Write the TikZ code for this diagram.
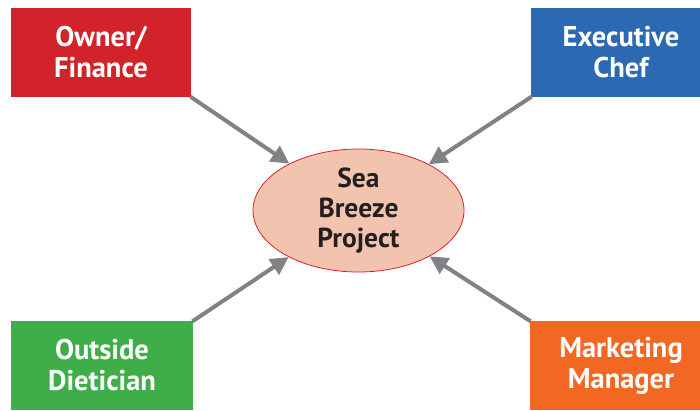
\documentclass[tikz,border=0pt]{standalone}
\usepackage{fontspec}
\setmainfont{PT Sans}
\usetikzlibrary{arrows.meta,shapes.geometric}
\definecolor{cred}{HTML}{D2232A}
\definecolor{cblue}{HTML}{2B6AB3}
\definecolor{cgreen}{HTML}{3FAE49}
\definecolor{corange}{HTML}{F26722}
\definecolor{cpink}{HTML}{F2C4B0}
\definecolor{cgray}{HTML}{808285}
\definecolor{ctext}{HTML}{231F20}
\tikzset{
  rolebox/.style={rectangle, draw=none, minimum width=180pt, minimum height=89pt,
    inner sep=0pt, text=white, align=center,
    font=\fontsize{28.5}{31}\selectfont\bfseries},
  projell/.style={ellipse, draw=cred, line width=0.8pt, fill=cpink,
    minimum width=211pt, minimum height=123pt, inner sep=0pt, align=center,
    text=ctext, font=\fontsize{27.5}{30}\selectfont\bfseries},
  arr/.style={draw=cgray, line width=4pt, -{Triangle[length=18pt,width=18pt]}, shorten <=-1pt}
}
\begin{document}
\begin{tikzpicture}[x=1pt,y=-1pt]
\useasboundingbox (0,0) rectangle (700,410);
\fill[white] (0,0) rectangle (700,410);
\node[rolebox, fill=cred] (own) at (101,52.5) {Owner/\\Finance};
\node[rolebox, fill=cblue] (chef) at (621,52.5) {Executive\\Chef};
\node[rolebox, fill=cgreen, minimum width=182pt] (diet) at (102,365.5) {Outside\\Dietician};
\node[rolebox, fill=corange, minimum width=182pt] (mkt) at (621,365.5) {Marketing\\Manager};
\node[projell] (proj) at (358.5,210.5) {Sea\\Breeze\\Project};
\draw[arr] (own.south east) -- (proj);
\draw[arr] (chef.south west) -- (proj);
\draw[arr] (diet.north east) -- (proj);
\draw[arr] (mkt.north west) -- (proj);
\end{tikzpicture}
\end{document}
